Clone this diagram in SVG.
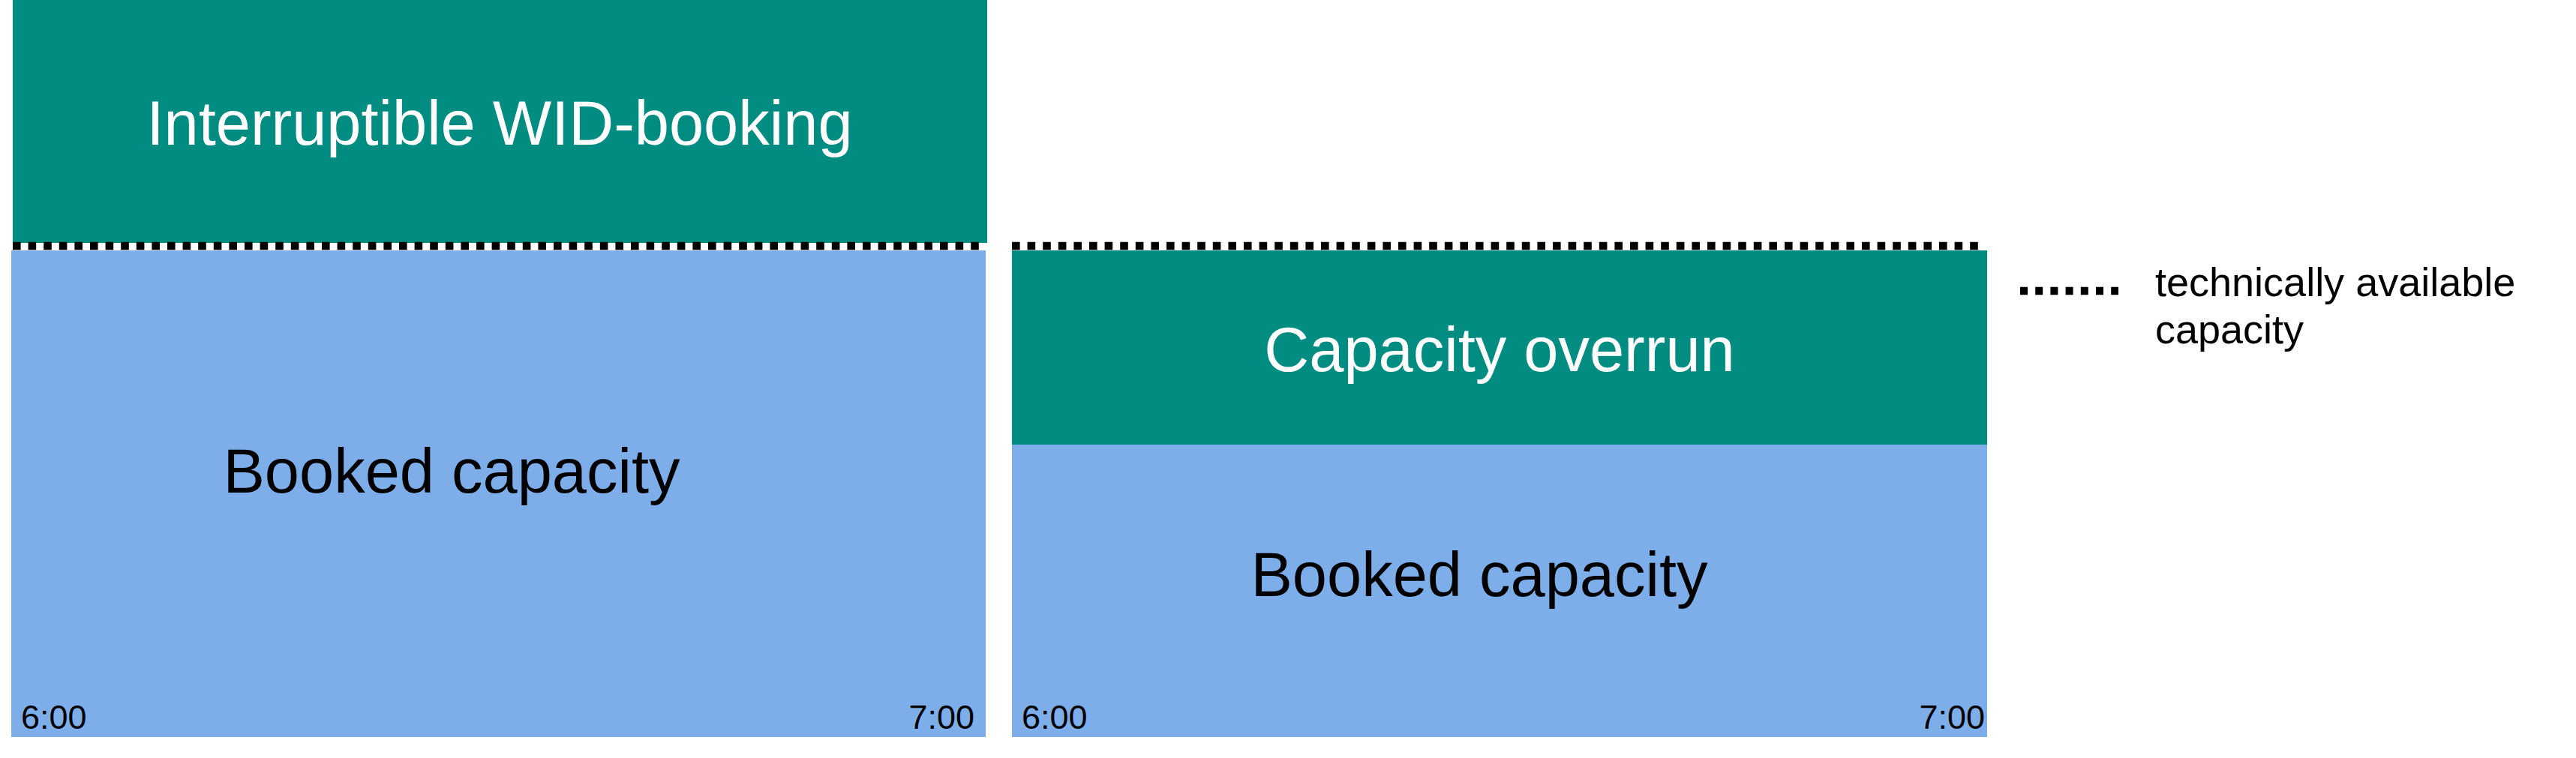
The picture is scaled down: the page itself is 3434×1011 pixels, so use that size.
<svg xmlns="http://www.w3.org/2000/svg" width="3434" height="1011" viewBox="0 0 3434 1011">
  <style>
    .teal { fill: #008C81; }
    .blue { fill: #7EAEE9; }
    .big { font-family: "Liberation Sans", Arial, sans-serif; font-size: 83px; }
    .small { font-family: "Liberation Sans", Arial, sans-serif; font-size: 45px; fill: #000; }
    .legend { font-family: "Liberation Sans", Arial, sans-serif; font-size: 54px; fill: #000; }
    .dots { stroke: #000; stroke-width: 10.6; stroke-dasharray: 10.6 10; fill: none; }
  </style>
  <rect width="3434" height="1011" fill="#fff"/>
  <g id="left-panel">
    <rect class="teal" x="17" y="0" width="1299" height="324"/>
    <text class="big" x="666" y="193" text-anchor="middle" fill="#fff">Interruptible WID-booking</text>
    <rect class="blue" x="15" y="334" width="1299" height="649"/>
    <text class="big" x="602" y="657" text-anchor="middle" fill="#000">Booked capacity</text>
    <text class="small" x="28" y="972">6:00</text>
    <text class="small" x="1299" y="972" text-anchor="end">7:00</text>
  </g>
  <g id="right-panel">
    <rect class="teal" x="1349" y="334" width="1300" height="259"/>
    <text class="big" x="1999" y="495" text-anchor="middle" fill="#fff">Capacity overrun</text>
    <rect class="blue" x="1349" y="593" width="1300" height="390"/>
    <text class="big" x="1972" y="795" text-anchor="middle" fill="#000">Booked capacity</text>
    <text class="small" x="1362" y="972">6:00</text>
    <text class="small" x="2646" y="972" text-anchor="end">7:00</text>
  </g>
  <g id="capacity-lines">
    <line class="dots" x1="17" y1="328" x2="1307" y2="328"/>
    <line class="dots" x1="1349" y1="328" x2="2640" y2="328"/>
  </g>
  <g id="legend">
    <line class="dots" x1="2693" y1="388" x2="2824" y2="388" style="stroke-dasharray: 10 10.2"/>
    <text class="legend" x="2873" y="395">technically available</text>
    <text class="legend" x="2873" y="458">capacity</text>
  </g>
</svg>
